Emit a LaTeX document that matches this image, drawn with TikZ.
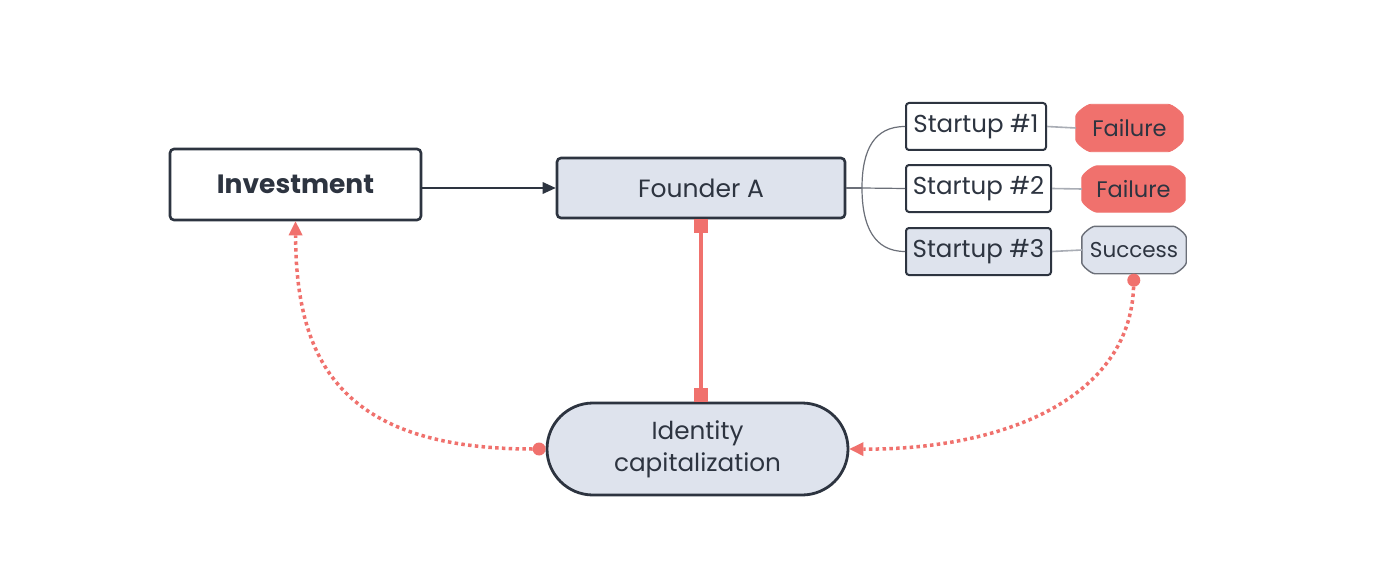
\documentclass[tikz,border=0pt]{standalone}
\usepackage{fontspec}
\setmainfont{Poppins}
\usetikzlibrary{arrows.meta,shapes.misc,calc,backgrounds}
\definecolor{ink}{HTML}{2D3440}
\definecolor{pale}{HTML}{DEE3ED}
\definecolor{coral}{HTML}{F0716D}
\definecolor{branchc}{HTML}{6B6F78}
\definecolor{lgrey}{HTML}{A9ADB5}
\newcommand{\outcomeshape}[4]{%
  \path[#4] ($(#1.north west)+(#2,0)$) -- ($(#1.north east)+(-#2,0)$)
   .. controls ($(#1.north east)+(-0.72*#2,0)$) and ($(#1.north east)+(0,0.72*#3)$) .. ($(#1.north east)+(0,#3)$)
   -- ($(#1.south east)+(0,-#3)$)
   .. controls ($(#1.south east)+(0,-0.72*#3)$) and ($(#1.south east)+(-0.72*#2,0)$) .. ($(#1.south east)+(-#2,0)$)
   -- ($(#1.south west)+(#2,0)$)
   .. controls ($(#1.south west)+(0.72*#2,0)$) and ($(#1.south west)+(0,-0.72*#3)$) .. ($(#1.south west)+(0,-#3)$)
   -- ($(#1.north west)+(0,#3)$)
   .. controls ($(#1.north west)+(0,0.72*#3)$) and ($(#1.north west)+(0.72*#2,0)$) .. cycle;}
\begin{document}
\begin{tikzpicture}[x=1pt,y=-1pt,
  every node/.style={inner sep=0pt, text=ink},
  boxnode/.style={draw=ink, rectangle, rounded corners=4pt},
  mainbox/.style={boxnode, line width=2.6pt},
  startbox/.style={boxnode, line width=2pt, rounded corners=3pt, font=\fontsize{24.5}{28}\selectfont},
  outcome/.style={rectangle},
  failnode/.style={outcome, font=\fontsize{22.5}{26}\selectfont},
  succnode/.style={outcome, font=\fontsize{21.5}{24}\selectfont},
  failfill/.style={fill=coral, draw=coral, line width=0.8pt},
  succfill/.style={fill=pale, draw=branchc, line width=1.4pt},
  branchline/.style={draw=branchc, line width=1.2pt},
  linkline/.style={draw=lgrey, line width=1.6pt},
  redlink/.style={draw=coral, line width=4pt, {Square[length=14pt,width=14pt,line width=0pt]}-{Square[length=14pt,width=14pt,line width=0pt]}},
  dotlink/.style={draw=coral, line width=3.5pt, dash pattern=on 3.5pt off 3.3pt,
     {Circle[length=13pt,width=13pt,line width=0pt]}-{Triangle[length=14pt,width=14pt,line width=0pt]}},
  mainarrow/.style={draw=ink, line width=2.4pt, -{Triangle[length=13pt,width=12pt,line width=0pt]}}
]
\useasboundingbox (0,0) rectangle (1400,575);

\node[mainbox, minimum width=251pt, minimum height=71pt, font=\fontsize{26.5}{30}\selectfont\bfseries] (inv) at (295.5,184.5) {Investment};
\node[mainbox, fill=pale, minimum width=288pt, minimum height=60pt, font=\fontsize{25}{28}\selectfont] (fa) at (701,188) {Founder A};
\node[rounded rectangle, draw=ink, line width=2.8pt, fill=pale, minimum width=301pt, minimum height=92pt, align=center, font=\fontsize{24.7}{32}\selectfont] (id) at (697.5,449) {Identity\\capitalization};

\node[startbox, minimum width=140pt, minimum height=47pt] (s1) at (976,126.5) {Startup \#1};
\node[startbox, minimum width=145pt, minimum height=47pt] (s2) at (978.5,188.5) {Startup \#2};
\node[startbox, fill=pale, minimum width=145pt, minimum height=47pt] (s3) at (978.5,251.5) {Startup \#3};

\node[failnode, minimum width=107pt, minimum height=47pt] (f1) at (1129.5,128) {Failure};
\node[failnode, minimum width=103pt, minimum height=46pt] (f2) at (1133.5,189) {Failure};
\node[succnode, minimum width=104pt, minimum height=47pt] (sc) at (1134,250) {Success};

\begin{pgfonlayer}{background}
  \fill[white] (0,0) rectangle (1400,575);
  \outcomeshape{f1}{15}{12}{failfill}
  \outcomeshape{f2}{15}{12}{failfill}
  \outcomeshape{sc}{13}{11}{succfill}
\end{pgfonlayer}

\draw[mainarrow] (inv.east |- fa.west) -- (fa.west);

\coordinate (br) at (862,188);
\draw[branchline] (fa.east) -- (br);
\draw[branchline] (br) .. controls (862,150) and (874,126.5) .. (s1.west);
\draw[branchline] (br) -- (s2.west);
\draw[branchline] (br) .. controls (862,226) and (874,251.5) .. (s3.west);

\draw[linkline] (s1.east) -- (f1.west);
\draw[linkline] (s2.east) -- (f2.west);
\draw[linkline] (s3.east) -- (sc.west);

\draw[redlink] (fa.south) -- (fa.south |- id.north);

\draw[dotlink] (id.west) .. controls (340,449) and (296,360) .. (inv.south);
\draw[dotlink] (sc.south) .. controls (1130,400) and (1000,450) .. (id.east);
\end{tikzpicture}
\end{document}
